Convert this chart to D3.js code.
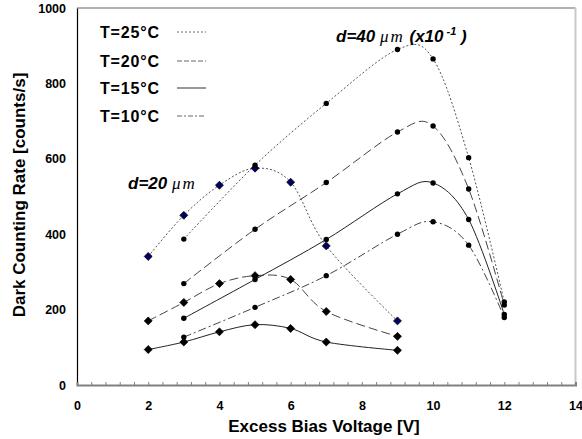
<!DOCTYPE html>
<html>
<head>
<meta charset="utf-8">
<script src="https://cdn.jsdelivr.net/npm/d3@7"></script>
<style>
  body { margin: 0; background: #fff; }
  text { font-family: "Liberation Sans", Arial, sans-serif; font-weight: bold; fill: #000; }
</style>
</head>
<body>
<svg id="chart" width="582" height="439"></svg>
<script>
// d = 20 um device (diamonds)
const voltD20 = [2, 3, 4, 5, 6, 7, 9];
const d20T25 = [341, 450, 530, 575, 538, 369, 170];
const d20T20 = [170, 219, 269, 290, 280, 195, 129];
const d20T15 = [94, 114, 141, 160, 150, 114, 92];

// d = 40 um device (circles, values x10^-1)
const voltD40 = [3, 5, 7, 9, 10, 11, 12];
const d40T25 = [387, 583, 747, 890, 865, 603, 220];
const d40T20 = [269, 413, 537, 671, 687, 520, 212];
const d40T15 = [177, 280, 386, 507, 536, 439, 187];
const d40T10 = [127, 206, 290, 400, 433, 371, 179];

const legendLabels = ["T=25°C", "T=20°C", "T=15°C", "T=10°C"];
const xTicks = [0, 2, 4, 6, 8, 10, 12, 14];
const yTicks = [0, 200, 400, 600, 800, 1000];

// line look per temperature
const styles = {
    "T=25°C": { dash: "2,2", color: "#555" },
    "T=20°C": { dash: "9,4", color: "#444" },
    "T=15°C": { dash: null, color: "#222" },
    "T=10°C": { dash: "8,3,2,3", color: "#444" }
};
const legendDash = { "T=25°C": "2,2", "T=20°C": "5,2", "T=15°C": null, "T=10°C": "5,2,2,2" };

const series = [
    { temp: "T=25°C", xs: voltD20, ys: d20T25, mark: "diamond", fill: "#000066" },
    { temp: "T=20°C", xs: voltD20, ys: d20T20, mark: "diamond", fill: "#000" },
    { temp: "T=15°C", xs: voltD20, ys: d20T15, mark: "diamond", fill: "#000" },
    { temp: "T=25°C", xs: voltD40, ys: d40T25, mark: "circle", fill: "#000" },
    { temp: "T=20°C", xs: voltD40, ys: d40T20, mark: "circle", fill: "#000" },
    { temp: "T=15°C", xs: voltD40, ys: d40T15, mark: "circle", fill: "#000" },
    { temp: "T=10°C", xs: voltD40, ys: d40T10, mark: "circle", fill: "#000" }
];

const svg = d3.select("#chart");
const plotLeft = 77, plotRight = 575.5, plotTop = 8, plotBottom = 385;

const x = d3.scaleLinear().domain([0, 14]).range([plotLeft, plotRight]);
const y = d3.scaleLinear().domain([0, 1000]).range([plotBottom, plotTop]);

// frame: grey top and right
svg.append("line").attr("x1", plotLeft).attr("x2", plotRight).attr("y1", plotTop).attr("y2", plotTop)
    .attr("stroke", "#999").attr("stroke-width", 1.5);
svg.append("line").attr("x1", plotRight).attr("x2", plotRight).attr("y1", plotTop).attr("y2", plotBottom)
    .attr("stroke", "#c8c8c8").attr("stroke-width", 2);

// curves
const line = d3.line()
    .x(d => x(d[0]))
    .y(d => y(d[1]))
    .curve(d3.curveCardinal.tension(0));

series.forEach(s => {
    const pts = s.xs.map((v, i) => [v, s.ys[i]]);
    svg.append("path")
        .attr("d", line(pts))
        .attr("fill", "none")
        .attr("stroke", styles[s.temp].color)
        .attr("stroke-width", 1)
        .attr("stroke-dasharray", styles[s.temp].dash);
});

// markers
const diamond = d3.symbol().type(d3.symbolDiamond2).size(40);
series.forEach(s => {
    const pts = s.xs.map((v, i) => [v, s.ys[i]]);
    if (s.mark === "diamond") {
        svg.append("g").selectAll("path").data(pts).enter().append("path")
            .attr("d", diamond)
            .attr("transform", d => `translate(${x(d[0])},${y(d[1])})`)
            .attr("fill", s.fill)
            .attr("stroke", "#000")
            .attr("stroke-width", 0.8);
    } else {
        svg.append("g").selectAll("circle").data(pts).enter().append("circle")
            .attr("cx", d => x(d[0]))
            .attr("cy", d => y(d[1]))
            .attr("r", 2.7)
            .attr("fill", s.fill);
    }
});

// axes
const yAxis = d3.axisLeft(y).tickValues(yTicks).tickSize(0).tickPadding(11).tickFormat(d3.format("d"));
const gy = svg.append("g").attr("transform", `translate(${plotLeft},0)`).call(yAxis);
gy.select(".domain").attr("stroke", "#000").attr("stroke-width", 1.2);
gy.selectAll(".tick text").attr("font-size", 12.5).attr("font-family", "Liberation Sans, Arial, sans-serif");

const xMinor = d3.axisBottom(x).tickValues(d3.range(0, 36).map(i => i * 0.4))
    .tickSize(-3).tickFormat("");
const gxm = svg.append("g").attr("transform", `translate(0,${plotBottom})`).call(xMinor);
gxm.selectAll(".tick line").attr("stroke", "#808080").attr("stroke-width", 1);
gxm.select(".domain").attr("stroke", "#808080").attr("stroke-width", 2);

const xAxis = d3.axisBottom(x).tickValues(xTicks).tickSize(0).tickPadding(16);
const gx = svg.append("g").attr("transform", `translate(0,${plotBottom})`).call(xAxis);
gx.select(".domain").remove();
gx.selectAll(".tick text").attr("font-size", 12.5).attr("font-family", "Liberation Sans, Arial, sans-serif");

// axis titles
svg.append("text")
    .attr("x", 324).attr("y", 432)
    .attr("text-anchor", "middle")
    .attr("font-size", 17)
    .text("Excess Bias Voltage [V]");

svg.append("text")
    .attr("transform", "translate(25,195) rotate(-90)")
    .attr("text-anchor", "middle")
    .attr("font-size", 17)
    .text("Dark Counting Rate [counts/s]");

// legend
const legendRowY = [32, 61, 88, 116];
legendLabels.forEach((lab, i) => {
    svg.append("text")
        .attr("x", 100).attr("y", legendRowY[i] + 6)
        .attr("font-size", 16)
        .attr("textLength", 59)
        .text(lab);
    svg.append("line")
        .attr("x1", 177).attr("x2", 206)
        .attr("y1", legendRowY[i]).attr("y2", legendRowY[i])
        .attr("stroke", i === 2 ? "#333" : "#666")
        .attr("stroke-width", 1)
        .attr("stroke-dasharray", legendDash[lab]);
});

// annotations
const a1 = svg.append("text").attr("x", 128).attr("y", 189)
    .attr("font-size", 17).attr("font-style", "italic");
a1.append("tspan").text("d=20 ");
a1.append("tspan").attr("font-family", "Liberation Serif, serif").attr("font-weight", "normal")
    .attr("letter-spacing", 2).text("μm");

const a2 = svg.append("text").attr("x", 336).attr("y", 42)
    .attr("font-size", 17).attr("font-style", "italic");
a2.append("tspan").text("d=40 ");
a2.append("tspan").attr("font-family", "Liberation Serif, serif").attr("font-weight", "normal")
    .attr("letter-spacing", 2).text("μm");
a2.append("tspan").text("  (x10");
a2.append("tspan").attr("dy", -7).attr("font-size", 11).text(" -1");
a2.append("tspan").attr("dy", 7).text(" )");
</script>
</body>
</html>
